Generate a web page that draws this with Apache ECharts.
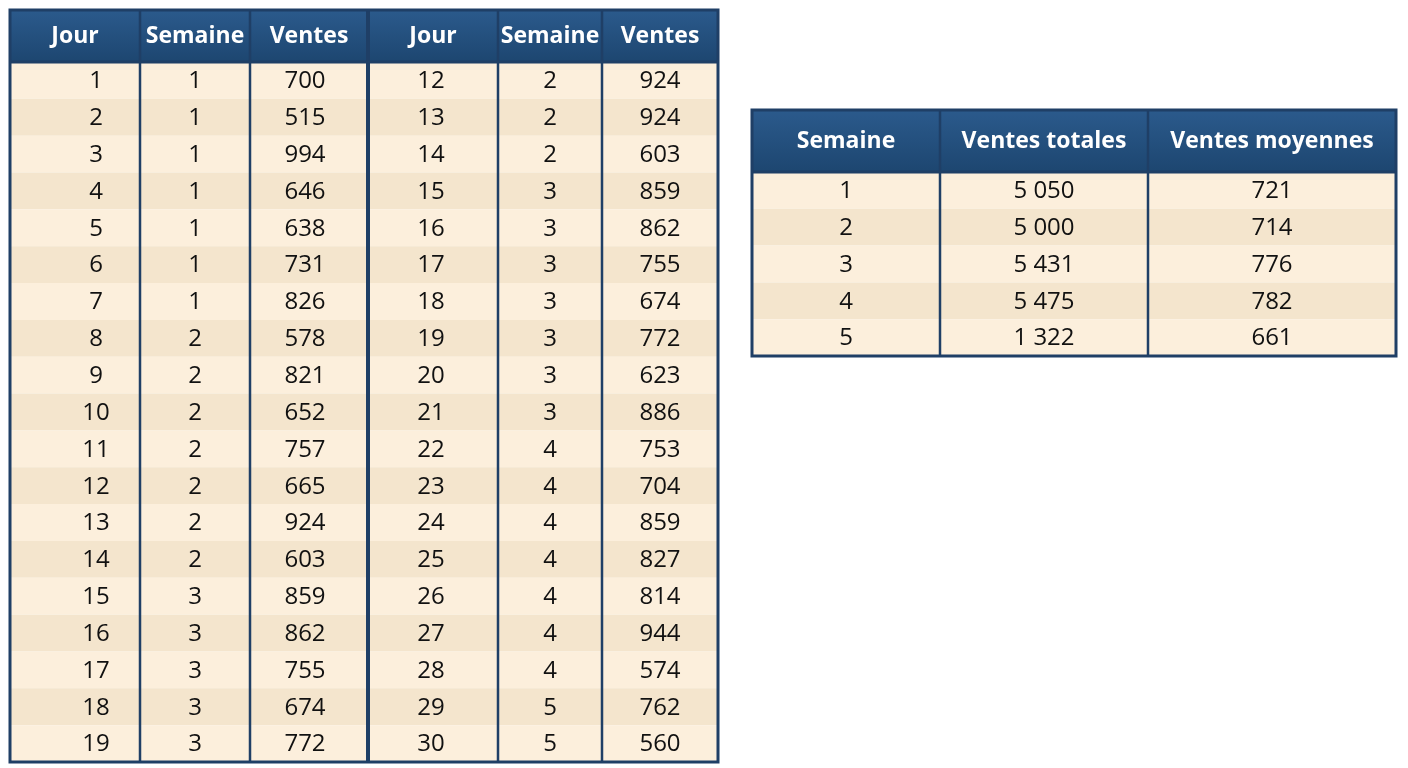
<!DOCTYPE html>
<html>
<head>
<meta charset="utf-8">
<script src="https://cdn.jsdelivr.net/npm/echarts@6/dist/echarts.min.js"></script>
<style>html,body{margin:0;padding:0;background:#fff}#chart{width:1408px;height:768px}</style>
</head>
<body>
<div id="chart"></div>
<script>
// partie gauche : jours 1-19
const joursG = [1,2,3,4,5,6,7,8,9,10,11,12,13,14,15,16,17,18,19];
const semainesG = [1,1,1,1,1,1,1,2,2,2,2,2,2,2,3,3,3,3,3];
const ventesG = [700,515,994,646,638,731,826,578,821,652,757,665,924,603,859,862,755,674,772];
// partie droite : jours 12-30 (tel qu'affiché)
const joursD = [12,13,14,15,16,17,18,19,20,21,22,23,24,25,26,27,28,29,30];
const semainesD = [2,2,2,3,3,3,3,3,3,3,4,4,4,4,4,4,4,5,5];
const ventesD = [924,924,603,859,862,755,674,772,623,886,753,704,859,827,814,944,574,762,560];
const enTetesJour = ['Jour','Semaine','Ventes'];

// synthèse par semaine
const enTetesSynthese = ['Semaine','Ventes totales','Ventes moyennes'];
const semaineNum = [1,2,3,4,5];
const ventesTotales = ['5 050','5 000','5 431','5 475','1 322'];
const ventesMoyennes = [721,714,776,782,661];

const chart = echarts.init(document.getElementById('chart'));
const font = '"Open Sans", "Liberation Sans", sans-serif';
const navy = '#1f3f66';
const rowA = '#fcefdc', rowB = '#f4e5cd';
const els = [];

function table(x0, y0, colEdges, headH, rowH, headers, rows, thick, colOffsets) {
  const w = colEdges[colEdges.length - 1] - colEdges[0];
  const h = headH + rowH * rows.length;
  const cx = i => x0 + (colEdges[i] + colEdges[i+1]) / 2 - colEdges[0] + ((colOffsets && colOffsets[i]) || 0);
  els.push({type:'rect', shape:{x:x0, y:y0, width:w, height:headH},
    style:{fill:new echarts.graphic.LinearGradient(0,0,0,1,[{offset:0,color:'#2b5a8c'},{offset:1,color:'#1d4670'}])}});
  headers.forEach((t, i) => {
    els.push({type:'text', x:x0 + (colEdges[i] + colEdges[i+1]) / 2 - colEdges[0], y:y0 + headH / 2,
      style:{text:t, fill:'#fff', font:'bold 23px ' + font, align:'center', verticalAlign:'middle'}});
  });
  rows.forEach((r, ri) => {
    const y = y0 + headH + ri * rowH;
    els.push({type:'rect', shape:{x:x0, y:y, width:w, height:rowH}, style:{fill: ri % 2 ? rowB : rowA}});
    r.forEach((v, ci) => {
      els.push({type:'text', x:cx(ci), y:y + rowH / 2 + 1,
        style:{text:String(v), fill:'#111', font:'24px ' + font, align:'center', verticalAlign:'middle'}});
    });
  });
  colEdges.slice(1, -1).forEach((ex, i) => {
    const lw = thick && thick.includes(i + 1) ? 4 : 2.5;
    els.push({type:'line', shape:{x1:x0 + ex - colEdges[0], y1:y0, x2:x0 + ex - colEdges[0], y2:y0 + h},
      style:{stroke:navy, lineWidth:lw}});
  });
  els.push({type:'line', shape:{x1:x0, y1:y0 + headH, x2:x0 + w, y2:y0 + headH}, style:{stroke:navy, lineWidth:3}});
  els.push({type:'rect', shape:{x:x0, y:y0, width:w, height:h}, style:{fill:'none', stroke:navy, lineWidth:3}});
}

const leftRows = joursG.map((j, i) => [j, semainesG[i], ventesG[i], joursD[i], semainesD[i], ventesD[i]]);
table(10, 10, [10,140,250,368,498,602,718], 52, 700 / 19,
  enTetesJour.concat(enTetesJour), leftRows, [3], [21, 0, -4, -2, 0, 0]);

const sumRows = semaineNum.map((s, i) => [s, ventesTotales[i], ventesMoyennes[i]]);
table(752, 110, [752,940,1148,1396], 62, 184 / 5, enTetesSynthese, sumRows);

chart.setOption({animation:false, graphic:{elements:els}});
</script>
</body>
</html>
